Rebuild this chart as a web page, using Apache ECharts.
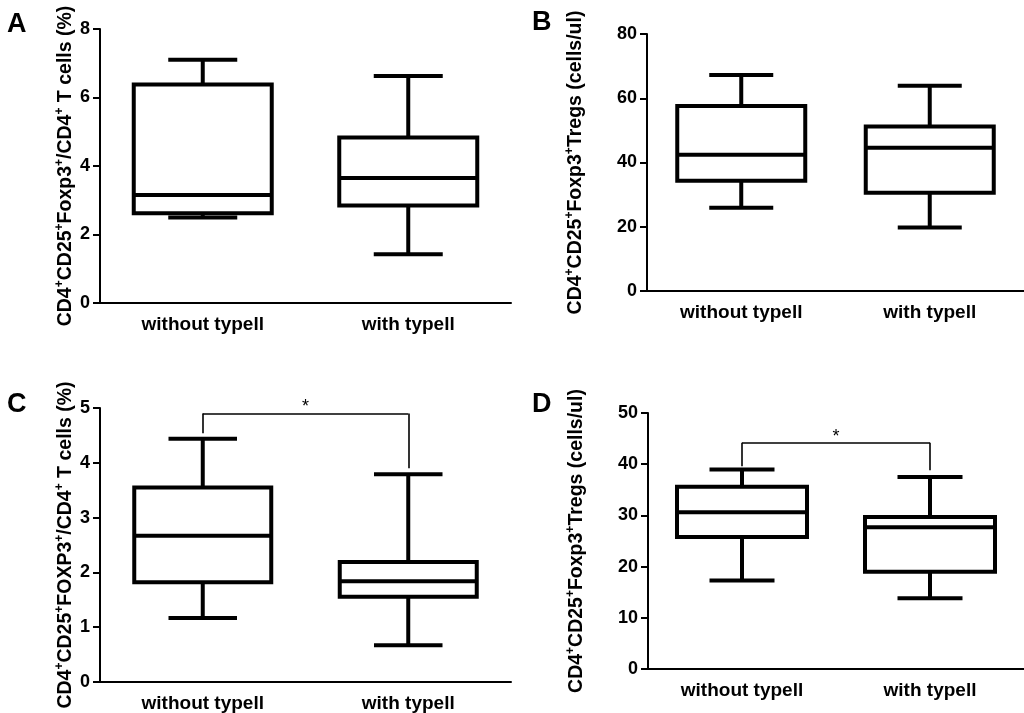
<!DOCTYPE html>
<html>
<head>
<meta charset="utf-8">
<script src="https://cdn.jsdelivr.net/npm/echarts@6/dist/echarts.min.js"></script>
<style>
html,body{margin:0;padding:0;background:#fff;}
#c{width:1024px;height:713px;}
</style>
</head>
<body>
<div id="c"></div>
<script>
// ---- data: [min, Q1, median, Q3, max] ----
var categories = ['without typell', 'with typell'];
var A_without = [2.50, 2.62, 3.15, 6.38, 7.10];
var A_with    = [1.42, 2.85, 3.65, 4.83, 6.63];
var B_without = [25.9, 34.3, 42.4, 57.6, 67.2];
var B_with    = [19.8, 30.6, 44.6, 51.2, 63.9];
var C_without = [1.17, 1.82, 2.67, 3.55, 4.44];
var C_with    = [0.67, 1.555, 1.84, 2.19, 3.79];
var D_without = [17.3, 25.8, 30.6, 35.6, 38.96];
var D_with    = [13.8, 19.0, 27.7, 29.7, 37.5];
// y-axis ranges [min, max, interval]
var A_axis = [0, 8, 2];
var B_axis = [0, 80, 20];
var C_axis = [0, 5, 1];
var D_axis = [0, 50, 10];
// significance brackets: [left leg bottom, bar height, right leg bottom]
var C_bracket = [4.54, 4.90, 3.90];
var D_bracket = [39.6, 44.2, 38.8];
var panelLetters = ['A', 'B', 'C', 'D'];
var yTitles = [
  '{t|CD4}{s|+}{t|CD25}{s|+}{t|Foxp3}{s|+}{t|/CD4}{s|+}{t| T cells (%)}',
  '{t|CD4}{s|+}{t|CD25}{s|+}{t|Foxp3}{s|+}{t|Tregs (cells/ul)}',
  '{t|CD4}{s|+}{t|CD25}{s|+}{t|FOXP3}{s|+}{t|/CD4}{s|+}{t| T cells (%)}',
  '{t|CD4}{s|+}{t|CD25}{s|+}{t|Foxp3}{s|+}{t|Tregs (cells/ul)}'
];

var FONT = '"Liberation Sans", Arial, sans-serif';
var grids = [
  {left: 100, top: 29, width: 411, height: 274},
  {left: 647, top: 34, width: 386, height: 257},
  {left: 100, top: 408, width: 411, height: 274},
  {left: 648, top: 413, width: 386, height: 256}
];
var boxWidths = [138, 128, 137, 130];
var nameGaps = [17, 59, 17, 59];
var titleRich = {
  t: {fontFamily: FONT, fontWeight: 'bold', fontSize: 19.5, color: '#000', lineHeight: 24},
  s: {fontFamily: FONT, fontWeight: 'bold', fontSize: 12, color: '#000', lineHeight: 12, verticalAlign: 'top'}
};

function xAxis(i) {
  return {
    type: 'category', gridIndex: i, data: categories,
    axisLine: {lineStyle: {color: '#000', width: 2}},
    axisTick: {alignWithLabel: true, length: 7, lineStyle: {color: '#000', width: 2}},
    axisLabel: {color: '#000', fontFamily: FONT, fontWeight: 'bold', fontSize: 19, margin: 12}
  };
}
function yAxis(i, ax) {
  return {
    type: 'value', gridIndex: i, min: ax[0], max: ax[1], interval: ax[2],
    name: yTitles[i], nameLocation: 'middle', nameGap: nameGaps[i], nameRotate: 90,
    nameTextStyle: {rich: titleRich},
    splitLine: {show: false},
    axisLine: {show: true, lineStyle: {color: '#000', width: 2}},
    axisTick: {show: true, length: 7, lineStyle: {color: '#000', width: 2}},
    axisLabel: {color: '#000', fontFamily: FONT, fontWeight: 'bold', fontSize: 18, margin: 10}
  };
}
function bracket(b) {
  var ls = {color: '#000', width: 1.6, type: 'solid'};
  return {
    silent: true, symbol: ['none', 'none'], animation: false,
    lineStyle: ls,
    data: [
      [{coord: [0, b[1]], label: {show: true, formatter: '*', position: 'middle', fontSize: 18, color: '#000', fontFamily: FONT, distance: -3}},
       {coord: [1, b[1]]}],
      [{coord: [0, b[0]], label: {show: false}}, {coord: [0, b[1]]}],
      [{coord: [1, b[2]], label: {show: false}}, {coord: [1, b[1]]}]
    ]
  };
}
function makeRender(bw) {
  return function (params, api) {
    var cat = api.value(0);
    var x = api.coord([cat, 0])[0];
    var yMin = api.coord([cat, api.value(1)])[1];
    var yQ1 = api.coord([cat, api.value(2)])[1];
    var yMed = api.coord([cat, api.value(3)])[1];
    var yQ3 = api.coord([cat, api.value(4)])[1];
    var yMax = api.coord([cat, api.value(5)])[1];
    var hw = bw / 2, cw = bw / 4;
    var st = {stroke: '#000', lineWidth: 4, fill: null, lineCap: 'butt'};
    return {
      type: 'group',
      children: [
        {type: 'line', shape: {x1: x, y1: yQ1, x2: x, y2: yMin}, style: st},
        {type: 'line', shape: {x1: x, y1: yQ3, x2: x, y2: yMax}, style: st},
        {type: 'line', shape: {x1: x - cw, y1: yMin, x2: x + cw, y2: yMin}, style: st},
        {type: 'line', shape: {x1: x - cw, y1: yMax, x2: x + cw, y2: yMax}, style: st},
        {type: 'rect', shape: {x: x - hw, y: yQ3, width: bw, height: yQ1 - yQ3},
          style: {stroke: '#000', lineWidth: 4, fill: '#fff', lineJoin: 'miter'}},
        {type: 'line', shape: {x1: x - hw, y1: yMed, x2: x + hw, y2: yMed}, style: st}
      ]
    };
  };
}
function boxSeries(i, w, wi, br) {
  var s = {
    type: 'custom', xAxisIndex: i, yAxisIndex: i,
    renderItem: makeRender(boxWidths[i]),
    encode: {x: 0, y: [1, 2, 3, 4, 5]},
    silent: true,
    data: [[0].concat(w), [1].concat(wi)]
  };
  if (br) s.markLine = bracket(br);
  return s;
}

var chart = echarts.init(document.getElementById('c'), null, {renderer: 'canvas'});
chart.setOption({
  animation: false,
  backgroundColor: '#fff',
  grid: grids,
  title: [
    {left: 7, top: 11},
    {left: 532, top: 9},
    {left: 7, top: 391},
    {left: 532, top: 391}
  ].map(function (t, k) {
    t.text = panelLetters[k];
    t.textStyle = {fontFamily: FONT, fontWeight: 'bold', fontSize: 27, color: '#000'};
    t.padding = 0;
    return t;
  }),
  xAxis: [xAxis(0), xAxis(1), xAxis(2), xAxis(3)],
  yAxis: [yAxis(0, A_axis), yAxis(1, B_axis), yAxis(2, C_axis), yAxis(3, D_axis)],
  series: [
    boxSeries(0, A_without, A_with, null),
    boxSeries(1, B_without, B_with, null),
    boxSeries(2, C_without, C_with, C_bracket),
    boxSeries(3, D_without, D_with, D_bracket)
  ]
});
</script>
</body>
</html>
